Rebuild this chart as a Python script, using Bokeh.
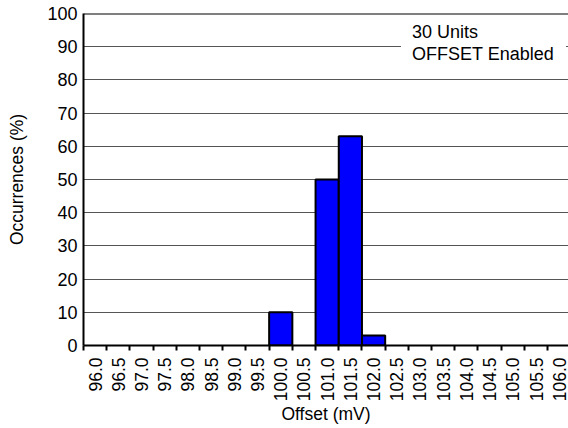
import math
from bokeh.plotting import figure
from bokeh.models import Range1d, FixedTicker, Span, Label, ColumnDataSource
from bokeh.embed import file_html
from bokeh.resources import INLINE

# ---- data ----
bin_labels = ["96.0", "96.5", "97.0", "97.5", "98.0", "98.5", "99.0", "99.5",
              "100.0", "100.5", "101.0", "101.5", "102.0", "102.5", "103.0",
              "103.5", "104.0", "104.5", "105.0", "105.5", "106.0"]
occurrences = [0, 0, 0, 0, 0, 0, 0, 0, 10, 0, 50, 63, 3, 0, 0, 0, 0, 0, 0, 0, 0]
y_ticks = [0, 10, 20, 30, 40, 50, 60, 70, 80, 90, 100]
note_text = "30 Units\nOFFSET Enabled"
x_title = "Offset (mV)"
y_title = "Occurrences (%)"

FONT = "Liberation Sans"
FS = "17.5px"

n = len(bin_labels)
centers = [i + 0.5 for i in range(n)]
edges = list(range(n + 1))

src = ColumnDataSource(dict(
    x=[c for c, v in zip(centers, occurrences) if v > 0],
    top=[v for v in occurrences if v > 0],
))

p = figure(width=568, height=428, output_backend="svg", toolbar_location=None,
           x_range=Range1d(0, 20.9), y_range=Range1d(0, 100),
           min_border_left=83, min_border_right=0, min_border_top=13,
           min_border_bottom=83)
p.outline_line_color = None
p.background_fill_color = "white"
p.border_fill_color = "white"

p.vbar(x="x", top="top", bottom=0, width=1, source=src,
       fill_color="#0000FF", line_color="black", line_width=2)

# grid
p.xgrid.visible = False
p.ygrid.grid_line_color = "#555555"
p.ygrid.grid_line_width = 1

# x axis
xa = p.xaxis[0]
xa.ticker = FixedTicker(ticks=centers, minor_ticks=edges)
xa.major_label_overrides = {c: lab for c, lab in zip(centers, bin_labels)}
xa.major_label_orientation = math.pi / 2
xa.major_tick_out = 0
xa.major_tick_in = 0
xa.minor_tick_out = 5
xa.minor_tick_in = 0
xa.minor_tick_line_color = "black"
xa.minor_tick_line_width = 2
xa.axis_line_color = "black"
xa.axis_line_width = 2
xa.major_label_standoff = 7
xa.major_label_text_font = FONT
xa.major_label_text_font_size = FS
xa.major_label_text_color = "black"
xa.axis_label = x_title
xa.axis_label_text_font = FONT
xa.axis_label_text_font_size = FS
xa.axis_label_text_font_style = "normal"
xa.axis_label_text_color = "black"
xa.axis_label_standoff = 0

# y axis
ya = p.yaxis[0]
ya.ticker = FixedTicker(ticks=y_ticks)
ya.major_tick_out = 0
ya.major_tick_in = 0
ya.minor_tick_out = 0
ya.minor_tick_in = 0
ya.axis_line_color = "black"
ya.axis_line_width = 2
ya.major_label_standoff = 6
ya.major_label_text_font = FONT
ya.major_label_text_font_size = "18px"
ya.major_label_text_color = "black"
ya.axis_label = y_title
ya.axis_label_text_font = FONT
ya.axis_label_text_font_size = FS
ya.axis_label_text_font_style = "normal"
ya.axis_label_text_color = "black"
ya.axis_label_standoff = 17

# note box
p.add_layout(Label(x=13.68, y=98.5, text=note_text, text_baseline="top",
                   text_align="left", text_font=FONT, text_font_size="18px",
                   text_color="black", text_line_height=1.1,
                   background_fill_color="white",
                   padding=dict(left=11, right=12, top=4, bottom=4)))

# top border (drawn last so it stays on top)
p.add_layout(Span(location=100, dimension="width", line_color="black", line_width=2))

open("out.html", "w").write(file_html(p, INLINE))
